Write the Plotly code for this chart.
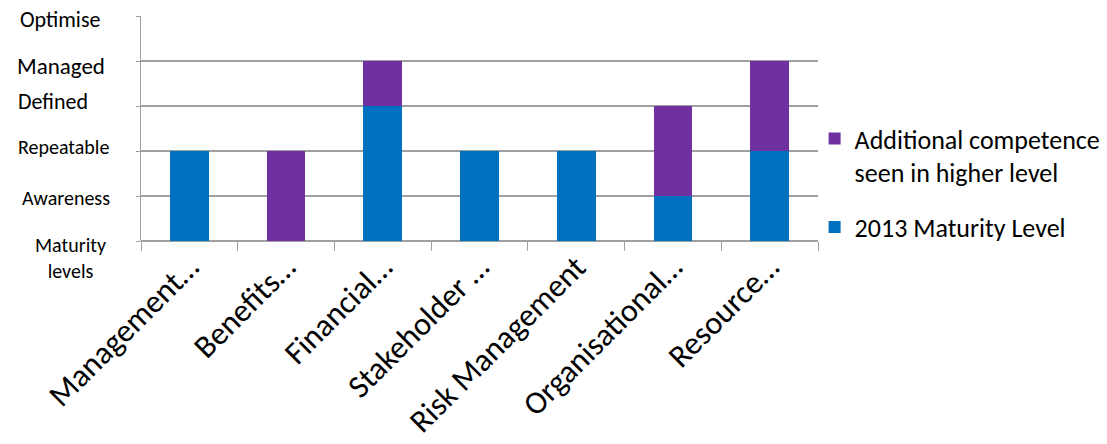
import plotly.graph_objects as go

categories = ["Management…", "Benefits…", "Financial…", "Stakeholder …",
              "Risk Management", "Organisational…", "Resource…"]
maturity_2013 = [2, 0, 3, 2, 2, 1, 2]
additional = [0, 2, 1, 0, 0, 2, 2]

level_names = ["Maturity<br>levels", "Awareness", "Repeatable", "Defined", "Managed", "Optimise"]
level_values = [0, 1, 2, 3, 4, 5]

# styling for the level labels (x centre px offset from axis, y shift, font size)
level_style = [(-71, -17, 20), (-75.5, -1.5, 20), (-78, 4, 20), (-88.5, 4.5, 22), (-80.5, -4.5, 23), (-81, -3.5, 22)]

FONT = "Calibri, Carlito, Lato, sans-serif"
BLUE = "#0070C0"
PURPLE = "#7030A0"

fig = go.Figure()
fig.add_trace(go.Bar(x=categories, y=maturity_2013, name="2013 Maturity Level",
                     legendgroup="g1", legendrank=2,
                     marker=dict(color=BLUE, line=dict(width=0))))
fig.add_trace(go.Bar(x=categories, y=additional, name="Additional competence<br>seen in higher level",
                     legendgroup="g2", legendrank=1,
                     marker=dict(color=PURPLE, line=dict(width=0))))

annotations = []
for name, val, (xs, ys, fs) in zip(level_names, level_values, level_style):
    annotations.append(dict(xref="paper", yref="y", x=0, y=val, text=name,
                            showarrow=False, xanchor="center", yanchor="middle",
                            xshift=xs, yshift=ys, font=dict(family=FONT, size=fs, color="#000")))

fig.update_layout(
    width=1107, height=444,
    margin=dict(l=141, r=289, t=16, b=203, autoexpand=False),
    barmode="stack", bargap=0.6,
    plot_bgcolor="white", paper_bgcolor="white",
    font=dict(family=FONT, color="#000"),
    showlegend=True,
    legend=dict(x=0.995, y=0.56, xanchor="left", yanchor="top",
                traceorder="grouped", tracegroupgap=18, valign="top",
                font=dict(family=FONT, size=26, color="#000"),
                bgcolor="rgba(0,0,0,0)"),
    annotations=annotations,
)
fig.update_xaxes(type="category", tickangle=-45, tickson="boundaries",
                 ticks="outside", ticklen=9, tickcolor="#A0A0A0", tickwidth=1,
                 showline=False, showgrid=False, automargin=False,
                 tickfont=dict(family=FONT, size=32, color="#000"))
fig.update_yaxes(range=[0, 5], tickvals=level_values, showticklabels=False,
                 ticks="outside", ticklen=4, tickcolor="#A0A0A0",
                 showgrid=True, gridcolor="#A0A0A0", gridwidth=1.5,
                 showline=True, linecolor="#A0A0A0", linewidth=1,
                 zeroline=True, zerolinecolor="#A0A0A0", zerolinewidth=1.5)

fig.write_html("out.html")
